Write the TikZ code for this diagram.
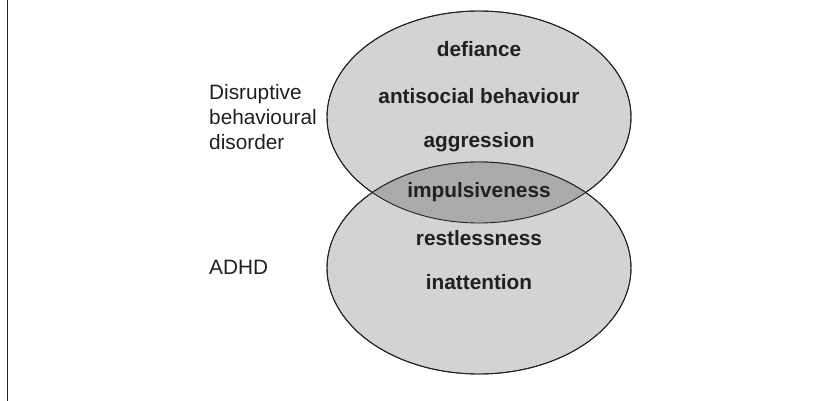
\documentclass[tikz,border=0pt]{standalone}
\usepackage{fontspec}
\setmainfont{Liberation Sans}
\usetikzlibrary{shapes.geometric}
\definecolor{lightfill}{HTML}{D2D3D5}
\definecolor{darkfill}{HTML}{A9AAAC}
\definecolor{inkc}{HTML}{231F20}
\begin{document}
\begin{tikzpicture}[x=1pt,y=-1pt,
  setbox/.style={ellipse, minimum width=304pt, minimum height=212pt, inner sep=0pt, draw=inkc, line width=0.9pt},
  item/.style={anchor=base, inner sep=0pt, text=inkc, font=\fontsize{20.8}{24.5}\selectfont\bfseries},
  side/.style={inner sep=0pt, text=inkc, align=left, font=\fontsize{20.8}{25.2}\selectfont}]
\useasboundingbox (0,0) rectangle (831,401);
% sets
\node[setbox, fill=lightfill] (dbd) at (479,117) {};
\node[setbox, fill=lightfill] (adhd) at (479,268) {};
\begin{scope}
  \clip (479,117) ellipse [x radius=152pt, y radius=106pt];
  \fill[darkfill] (479,268) ellipse [x radius=152pt, y radius=106pt];
\end{scope}
\draw[inkc, line width=0.9pt] (dbd.center) ellipse [x radius=152pt, y radius=106pt];
\draw[inkc, line width=0.9pt] (adhd.center) ellipse [x radius=152pt, y radius=106pt];
% frame line
\coordinate (ftop) at (7.5,0);
\coordinate (fbot) at (7.5,401);
\draw[inkc, line width=1.6pt] (ftop) -- (fbot);
% items
\node[item] (defiance) at (479,57) {defiance};
\node[item] (antisocial) at (479,104) {antisocial behaviour};
\node[item] (aggression) at (479,148) {aggression};
\node[item] (impulsive) at (479,198) {impulsiveness};
\node[item] (restless) at (479,246) {restlessness};
\node[item] (inattention) at (479,290) {inattention};
% side labels
\node[side, anchor=north west] (dbdlabel) at (209,84) {Disruptive\\behavioural\\disorder};
\node[side, anchor=base west] (adhdlabel) at (209,275) {ADHD};
\end{tikzpicture}
\end{document}
